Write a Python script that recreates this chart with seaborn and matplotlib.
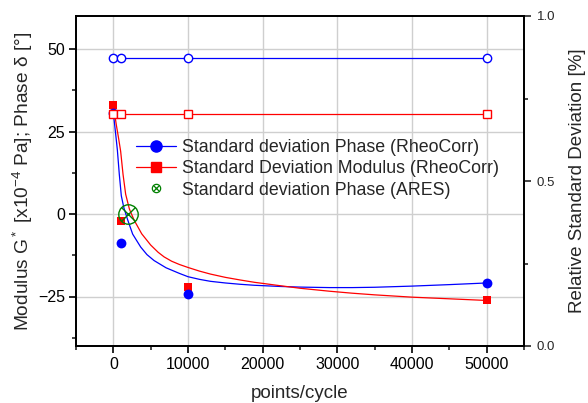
import matplotlib
matplotlib.use("Agg")
import matplotlib.pyplot as plt
import numpy as np
import pandas as pd
import seaborn as sns
from matplotlib.legend_handler import HandlerTuple
from matplotlib.lines import Line2D
from matplotlib.ticker import FormatStrFormatter, MultipleLocator

# measured points (left axis)
points_x = [0, 1000, 10000, 50000]
phase_rheocorr = [30.7, -8.7, -24.3, -20.9]
modulus_rheocorr = [33.0, -2.2, -22.2, -26.2]

ares_x = [2000]
ares_phase = [0.0]

# fitted curves (left axis)
phase_fit_x = [0, 300, 540, 800, 1070, 1400, 1880, 2590, 3660, 4500, 5450,
               7060, 8850, 10000, 11530, 13000, 15000, 17000, 18900, 22250,
               25000, 28950, 32000, 35000, 40000, 45000, 50000]
phase_fit_y = [30.7, 24.5, 19.4, 12.0, 5.5, 2.0, -1.5, -6.1, -10.0, -12.3, -14.1,
               -16.3, -18.0, -19.0, -19.8, -20.4, -20.9, -21.3, -21.6, -21.95,
               -22.15, -22.3, -22.3, -22.2, -21.85, -21.4, -20.9]
modulus_fit_x = [0, 400, 700, 980, 1300, 1650, 2150, 2770, 3800, 5000, 6000,
                 6800, 7800, 8850, 10000, 11530, 13000, 15000, 17000, 18900,
                 22250, 25000, 28950, 32000, 35000, 40000, 45000, 50000]
modulus_fit_y = [33.0, 27.0, 23.0, 19.0, 12.0, 6.0, 1.5, -1.8, -6.0, -9.4, -11.6,
                 -13.0, -14.3, -15.3, -16.2, -17.3, -18.2, -19.2, -20.0, -20.7,
                 -21.7, -22.5, -23.4, -24.0, -24.5, -25.2, -25.7, -26.2]

# relative standard deviation (right axis)
rsd_phase_x = [0, 1000, 10000, 50000]
rsd_phase = [0.873, 0.873, 0.873, 0.873]
rsd_modulus_x = [0, 1000, 10000, 50000]
rsd_modulus = [0.703, 0.703, 0.703, 0.703]

BLUE = "#0000ff"
RED = "#ff0000"
GREEN = "#008000"

sns.set_style("white")
plt.rcParams["font.family"] = ["Liberation Sans", "DejaVu Sans"]
plt.rcParams["mathtext.fontset"] = "custom"
plt.rcParams["mathtext.rm"] = "Liberation Sans"
plt.rcParams["mathtext.it"] = "Liberation Sans"

fig = plt.figure(figsize=(5.88, 4.03), dpi=100)
ax = fig.add_axes([76 / 588, 57 / 403, 448 / 588, 330 / 403])
ax2 = ax.twinx()

# fits
sns.lineplot(x=phase_fit_x, y=phase_fit_y, ax=ax, color=BLUE, lw=0.9,
             sort=False, estimator=None, zorder=2)
sns.lineplot(x=modulus_fit_x, y=modulus_fit_y, ax=ax, color=RED, lw=0.9,
             sort=False, estimator=None, zorder=2)

# measured markers
sns.scatterplot(x=points_x, y=modulus_rheocorr, ax=ax, color=RED, marker="s",
                s=38, edgecolor=RED, linewidth=0, zorder=4)
sns.scatterplot(x=points_x, y=phase_rheocorr, ax=ax, color=BLUE, marker="o",
                s=50, edgecolor=BLUE, linewidth=0, zorder=4)
ax.plot(ares_x, ares_phase, marker="o", ms=14, mfc="none", mec=GREEN, mew=1.0,
        ls="none", zorder=5)
ax.plot(ares_x, ares_phase, marker="x", ms=10, mec=GREEN, mew=1.0,
        ls="none", zorder=5)

# relative standard deviation on the right axis
sns.lineplot(x=rsd_phase_x, y=rsd_phase, ax=ax2, color=BLUE, lw=0.9,
             marker="o", ms=6, mfc="white", mec=BLUE, mew=1.0,
             sort=False, estimator=None)
sns.lineplot(x=rsd_modulus_x, y=rsd_modulus, ax=ax2, color=RED, lw=0.9,
             marker="s", ms=6, mfc="white", mec=RED, mew=1.0,
             sort=False, estimator=None)

ax.set_xlim(-5000, 55000)
ax.set_ylim(-40, 60)
ax2.set_ylim(0, 1.0)

ax.set_xticks([0, 10000, 20000, 30000, 40000, 50000])
ax.xaxis.set_minor_locator(MultipleLocator(5000))
ax.set_yticks([-25, 0, 25, 50])
ax.yaxis.set_minor_locator(MultipleLocator(12.5))
ax2.set_yticks([0, 0.5, 1.0])
ax2.yaxis.set_minor_locator(MultipleLocator(0.25))
ax2.yaxis.set_major_formatter(FormatStrFormatter("%.1f"))

ax.grid(True, which="major", color="#cfcfcf", lw=1.0)
ax.set_axisbelow(True)

for a in (ax, ax2):
    for sp in a.spines.values():
        sp.set_linewidth(1.3)
        sp.set_color("black")
ax.tick_params(axis="both", which="major", direction="out", length=5, width=1.2,
               labelsize=11.5, colors="black", pad=3)
ax.tick_params(axis="both", which="minor", direction="out", length=3, width=1.2)
ax.tick_params(axis="y", which="both", left=True)
ax.tick_params(axis="x", which="both", bottom=True)
ax2.tick_params(axis="y", which="major", direction="out", length=5, width=1.2,
                labelsize=9.5, right=True, pad=4)
ax2.tick_params(axis="y", which="minor", direction="out", length=3, width=1.2,
                right=True)

ax.set_xlabel("points/cycle", fontsize=13.5, labelpad=9)
ax.set_ylabel(r"Modulus G$^*$ [x10$^{-4}$ Pa]; Phase δ [°]", fontsize=13.8,
              labelpad=2)
ax2.set_ylabel("Relative Standard Deviation [%]", fontsize=13.5, labelpad=10)

handles = [
    Line2D([], [], color=BLUE, lw=0.9, marker="o", ms=8, mfc=BLUE, mec=BLUE),
    Line2D([], [], color=RED, lw=0.9, marker="s", ms=7, mfc=RED, mec=RED),
    (Line2D([], [], ls="none", marker="o", ms=6, mfc="none", mec=GREEN, mew=0.9),
     Line2D([], [], ls="none", marker="x", ms=4.5, mec=GREEN, mew=0.9)),
]
labels = [
    "Standard deviation Phase (RheoCorr)",
    "Standard Deviation Modulus (RheoCorr)",
    "Standard deviation Phase (ARES)",
]
leg = ax2.legend(handles, labels, loc="upper left",
                 bbox_to_anchor=(0.135, 0.628), frameon=False, fontsize=12.8,
                 handlelength=2.2, handletextpad=0.35, labelspacing=0.25,
                 borderpad=0, borderaxespad=0,
                 handler_map={tuple: HandlerTuple(ndivide=1)})

fig.savefig("out.png", dpi=100)
